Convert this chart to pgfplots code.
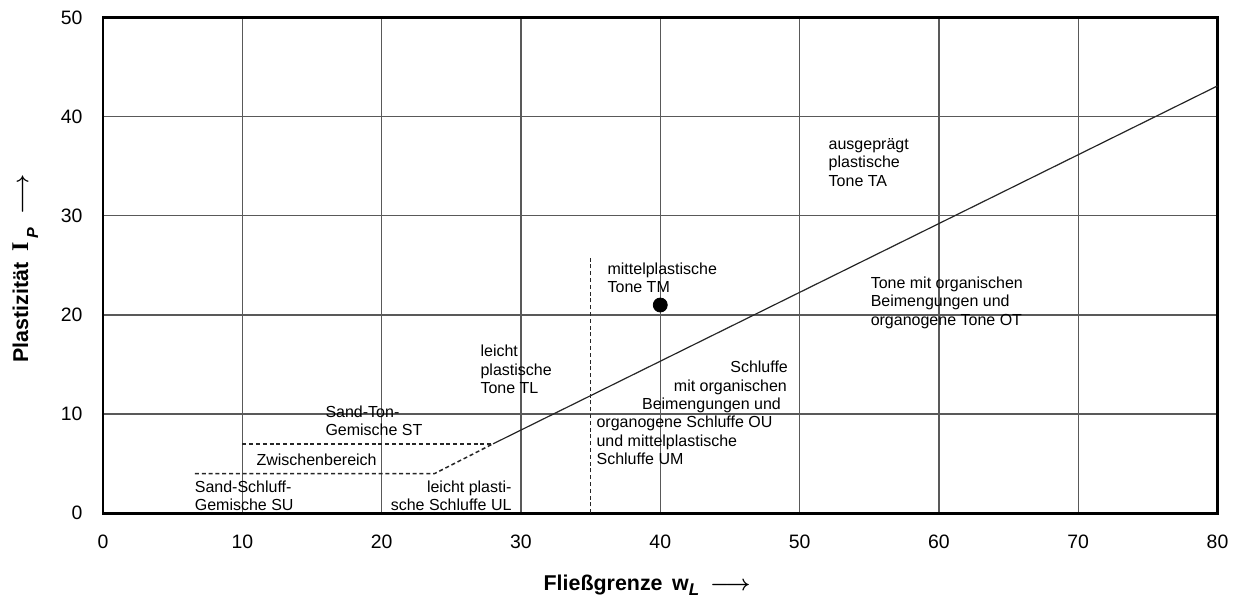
\documentclass[border=0pt]{standalone}
\usepackage{fontspec}
\setmainfont{Liberation Sans}
\newfontfamily\serifb{Liberation Serif}
\usepackage{pgfplots}
\pgfplotsset{compat=1.18}
\newcommand{\annot}{\fontsize{8pt}{9.2pt}\selectfont}
\newcommand{\LW}[3]{\node[anchor=base west,inner sep=0pt,font=\annot] at (axis cs:#1,#2) {#3};}
\newcommand{\LE}[3]{\node[anchor=base east,inner sep=0pt,font=\annot] at (axis cs:#1,#2) {#3};}
\begin{document}
\begin{tikzpicture}
\begin{axis}[
  name=ax,
  scale only axis,
  width=557pt, height=247.75pt,
  xmin=0, xmax=80, ymin=0, ymax=50,
  xtick={0,10,...,80}, ytick={0,10,...,50},
  major tick length=0pt,
  grid=major,
  major grid style={black!65, line width=0.7pt},
  axis line style={black, line width=1.3pt},
  /pgf/number format/assume math mode=true,
  tick label style={font=\fontsize{9.7pt}{11pt}\selectfont, black},
  xticklabel style={yshift=-7.5pt},
  yticklabel style={xshift=-6.8pt},
  clip=false,
]
% A-line
\addplot[black!85, line width=0.6pt] coordinates {(28,7) (80,43.1)};
% dashed boundaries
\addplot[black!85, line width=0.75pt, dash pattern=on 2pt off 1.4pt] coordinates {(10,7) (28,7)};
\addplot[black!85, line width=0.75pt, dash pattern=on 2pt off 1.4pt] coordinates {(6.6,4) (23.8,4) (28,7)};
\addplot[black!85, line width=0.75pt, dash pattern=on 2pt off 1.4pt] coordinates {(35,0) (35,26)};
% data point
\addplot[only marks, mark=*, mark size=3.5pt, mark options={fill=black, draw=black}] coordinates {(40,21)};
% annotations
\LW{52.06}{36.70}{ausgeprägt}
\LW{52.06}{34.84}{plastische}
\LW{52.06}{33.00}{Tone TA}
\LW{55.08}{22.67}{Tone mit organischen}
\LW{55.08}{20.82}{Beimengungen und}
\LW{55.08}{18.97}{organogene Tone OT}
\LW{36.19}{24.09}{mittelplastische}
\LW{36.19}{22.23}{Tone TM}
\LW{27.07}{15.77}{leicht}
\LW{27.07}{13.93}{plastische}
\LW{27.07}{12.08}{Tone TL}
\LW{15.94}{9.66}{Sand-Ton-}
\LW{15.94}{7.80}{Gemische ST}
\LW{10.99}{4.84}{Zwischenbereich}
\LW{6.56}{2.05}{Sand-Schluff-}
\LW{6.56}{0.30}{Gemische SU}
\LW{35.40}{8.61}{organogene Schluffe OU}
\LW{35.40}{6.76}{und mittelplastische}
\LW{35.40}{4.91}{Schluffe UM}
\LE{49.19}{14.16}{Schluffe}
\LE{49.12}{12.31}{mit organischen}
\LE{48.69}{10.46}{Beimengungen und}
\LE{29.35}{2.05}{leicht plasti-}
\LE{29.35}{0.30}{sche Schluffe UL}
% axis labels
\node[anchor=base west, inner sep=0pt, yshift=-38.5pt, font=\fontsize{10.7pt}{12pt}\selectfont\bfseries]
  at (axis description cs:0.395,0)
  {Fließgrenze\hspace{0.45em}w\raisebox{-2.5pt}{\fontsize{8.5pt}{9pt}\selectfont\itshape L}\hspace{0.5em}{\boldmath$\longrightarrow$}};
\node[xshift=-37.5pt, rotate=90, anchor=base west, inner sep=0pt, font=\fontsize{10.7pt}{12pt}\selectfont\bfseries]
  at (axis description cs:0,0.303)
  {Plastizität\hspace{0.5em}{\serifb\fontsize{12pt}{12pt}\selectfont I}\hspace{0.2em}\raisebox{-5pt}{\fontsize{8pt}{9pt}\selectfont\itshape P}\hspace{0.6em}{\boldmath$\longrightarrow$}};
\end{axis}
\pgfresetboundingbox
\path[use as bounding box] ([xshift=-51.5pt,yshift=-43.5pt]ax.south west) rectangle ([xshift=9.75pt,yshift=8.75pt]ax.north east);
\end{tikzpicture}
\end{document}
